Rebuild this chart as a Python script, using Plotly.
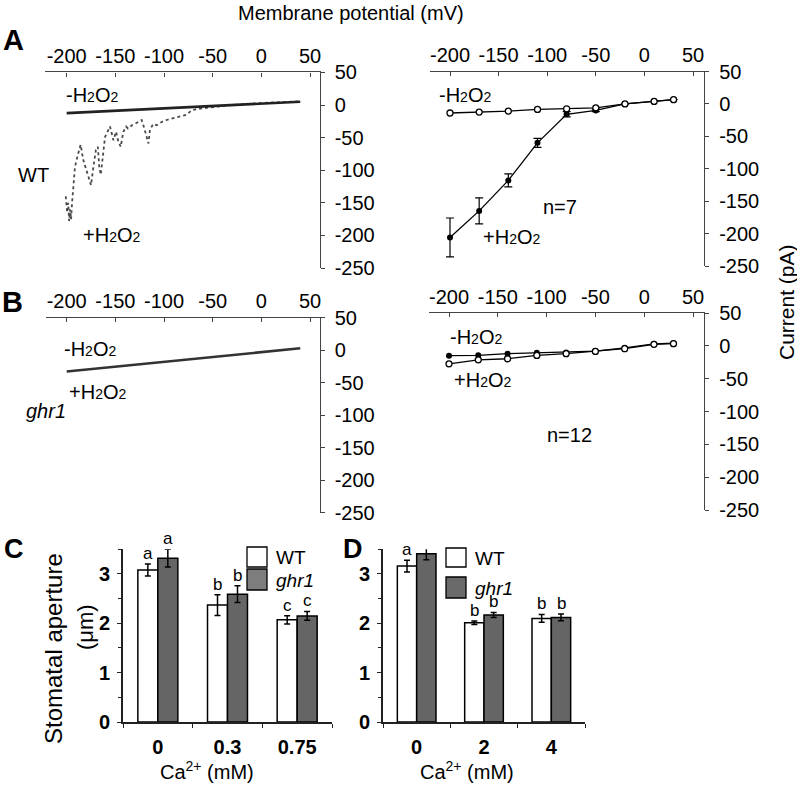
import plotly.graph_objects as go

W, H = 797, 787
FONT = "Liberation Sans, Arial, sans-serif"

# ---------------- Data ----------------
# Panel A left: WT raw ramp traces (membrane potential mV, current pA)
wt_ctrl_v = [-200, -100, 0, 40]
wt_ctrl_i = [-12.5, -5.5, 2, 5]
wt_h2o2_v = [-201, -199.5, -198.5, -197.5, -196.5, -195.5, -194.5,
             -193.2, -191.5, -189, -187, -185.7,
             -183, -179.5, -176, -175,
             -172.6, -170, -168, -166.5, -165,
             -162.4, -160.6, -158, -155.5,
             -152, -149.3, -147, -144.5,
             -141.8, -139, -137, -133, -130,
             -126.4, -123, -120.8, -117.8, -116,
             -114.5, -111, -107.5, -102.4,
             -97.3, -90.5, -83.6, -76.7, -71.6,
             -60, -30, 0, 40]
wt_h2o2_i = [-140, -165, -150, -178, -160, -175, -150,
             -120, -95, -79, -69, -61,
             -84, -100, -115, -123,
             -95, -69, -64, -95, -107,
             -74, -49, -41, -33,
             -54, -41, -56, -64,
             -41, -33, -36, -31, -29,
             -26, -23, -33, -49, -59,
             -38, -29, -31, -26,
             -23, -20, -18, -15, -8,
             -5, 0, 3, 5.5]

# Panel B left: ghr1 raw ramp traces
ghr1_raw_v = [-200, -63, 40]
ghr1_raw_i = [-33, -12.7, 2.6]

# Panels A/B right: averaged I-V
iv_v = [-200, -170, -140, -110, -80, -50, -20, 10, 30]
wt_minus = [-14, -12.6, -11, -8.5, -7.5, -6, 0, 3.8, 6.5]
wt_plus = [-206, -165, -118, -60, -16, -10, 0, 3.8, 6.5]
wt_plus_err = [30, 20, 10, 7, 4, 2, 0, 0, 0]
ghr1_filled = [-15, -14.5, -12, -10.5, -10, -8, -3, 3, 4]
ghr1_open = [-27.4, -21.3, -19.7, -14.6, -12, -8.5, -4.4, 2.3, 3.3]

v_ticks = [-200, -150, -100, -50, 0, 50]
i_ticks = [50, 0, -50, -100, -150, -200, -250]

# Panels C/D: stomatal aperture
ca_c = ["0", "0.3", "0.75"]
c_wt = [3.08, 2.37, 2.07]
c_wt_err = [0.12, 0.21, 0.085]
c_ghr1 = [3.32, 2.59, 2.15]
c_ghr1_err = [0.18, 0.17, 0.09]
c_wt_letters = ["a", "b", "c"]
c_ghr1_letters = ["a", "b", "c"]

ca_d = ["0", "2", "4"]
d_wt = [3.16, 2.01, 2.10]
d_wt_err = [0.12, 0.035, 0.08]
d_ghr1 = [3.41, 2.17, 2.12]
d_ghr1_err = [0.12, 0.05, 0.07]
d_wt_letters = ["a", "b", "b"]
d_ghr1_letters = ["a", "b", "b"]


def fx(px):
    return px / W


def fy(py):
    return 1 - py / H


fig = go.Figure()

# ---- A left ----
fig.add_trace(go.Scatter(x=wt_h2o2_v, y=wt_h2o2_i, mode="lines",
                         line=dict(color="#4a4a4a", width=1.8, dash="dot"),
                         xaxis="x", yaxis="y"))
fig.add_trace(go.Scatter(x=wt_ctrl_v, y=wt_ctrl_i, mode="lines",
                         line=dict(color="#222", width=2.6),
                         xaxis="x", yaxis="y"))

# ---- A right ----
fig.add_trace(go.Scatter(x=iv_v, y=wt_plus, mode="lines+markers",
                         line=dict(color="black", width=1.3),
                         marker=dict(size=6, color="black"),
                         error_y=dict(type="data", array=wt_plus_err, color="black",
                                      thickness=1.2, width=4),
                         xaxis="x2", yaxis="y2"))
fig.add_trace(go.Scatter(x=iv_v, y=wt_minus, mode="lines+markers",
                         line=dict(color="black", width=1.3),
                         marker=dict(size=6, color="white", line=dict(color="black", width=1.3)),
                         xaxis="x2", yaxis="y2"))

# ---- B left ----
fig.add_trace(go.Scatter(x=ghr1_raw_v, y=ghr1_raw_i, mode="lines",
                         line=dict(color="#333", width=2.6),
                         xaxis="x3", yaxis="y3"))

# ---- B right ----
fig.add_trace(go.Scatter(x=iv_v, y=ghr1_filled, mode="lines+markers",
                         line=dict(color="black", width=1.3),
                         marker=dict(size=6, color="black"),
                         xaxis="x4", yaxis="y4"))
fig.add_trace(go.Scatter(x=iv_v, y=ghr1_open, mode="lines+markers",
                         line=dict(color="black", width=1.3),
                         marker=dict(size=6, color="white", line=dict(color="black", width=1.3)),
                         xaxis="x4", yaxis="y4"))

# ---- C / D bars ----
GRAY = "#656565"
for cats, wt, wte, gh, ghe, xa, ya in [
    (ca_c, c_wt, c_wt_err, c_ghr1, c_ghr1_err, "x5", "y5"),
    (ca_d, d_wt, d_wt_err, d_ghr1, d_ghr1_err, "x6", "y6"),
]:
    fig.add_trace(go.Bar(x=cats, y=wt, name="WT", marker=dict(color="white", line=dict(color="black", width=1.5)),
                         error_y=dict(type="data", array=wte, color="black", thickness=1.5, width=3),
                         xaxis=xa, yaxis=ya))
    fig.add_trace(go.Bar(x=cats, y=gh, name="ghr1", marker=dict(color=GRAY, line=dict(color="black", width=1.5)),
                         error_y=dict(type="data", array=ghe, color="black", thickness=1.5, width=3),
                         xaxis=xa, yaxis=ya))

# ---------------- Axes ----------------
AXC = "#444"


def ephys_axes(xdom, ydom, p1, p2):
    a, b = xdom
    scale = (p2 - p1) / 250.0
    xr = [-200 - (p1 - a) / scale, 50 + (b - p2) / scale]
    xa = dict(domain=[fx(a), fx(b)], range=xr, side="top", automargin=False,
              tickvals=v_ticks, ticktext=[str(v) for v in v_ticks],
              ticks="inside", ticklen=4, tickcolor=AXC,
              showline=True, linecolor=AXC, linewidth=1.3,
              showgrid=False, zeroline=False,
              tickfont=dict(family=FONT, size=20, color="black"))
    ya = dict(domain=[fy(ydom[1]), fy(ydom[0])], range=[-250, 50], side="right", automargin=False,
              tickvals=i_ticks, ticktext=[str(v) for v in i_ticks],
              ticks="outside", ticklen=4, tickcolor=AXC, ticklabelstandoff=6,
              showline=True, linecolor=AXC, linewidth=1.3,
              showgrid=False, zeroline=False,
              tickfont=dict(family=FONT, size=20, color="black"))
    return xa, ya


xa1, ya1 = ephys_axes((45, 319.5), (72.4, 268), 66.7, 310)
xa2, ya2 = ephys_axes((430, 704), (71.5, 266), 450, 693)
xa3, ya3 = ephys_axes((46, 319.5), (317.5, 512.5), 66.7, 310)
xa4, ya4 = ephys_axes((429, 704), (313, 510), 449, 693)
xa1.update(anchor="y"); ya1.update(anchor="x")
xa2.update(anchor="y2"); ya2.update(anchor="x2")
xa3.update(anchor="y3"); ya3.update(anchor="x3")
xa4.update(anchor="y4"); ya4.update(anchor="x4")


def bar_axes(xdom, ydom, anchor_y, anchor_x):
    xa = dict(domain=[fx(xdom[0]), fx(xdom[1])], type="category", anchor=anchor_y, automargin=False,
              tickson="boundaries", ticks="outside", ticklen=4, tickcolor="#222",
              showline=True, linecolor="#222", linewidth=1.6, showgrid=False,
              ticklabelstandoff=6,
              tickfont=dict(family=FONT, size=20, color="black", weight="bold"))
    ya = dict(domain=[fy(ydom[1]), fy(ydom[0])], range=[0, 3.5], anchor=anchor_x, automargin=False,
              tickvals=[0, 1, 2, 3], ticks="outside", ticklen=4, tickcolor="#222",
              minor=dict(dtick=0.5, ticks="outside", ticklen=3, tickcolor="#222"),
              showline=True, linecolor="#222", linewidth=1.6, showgrid=False, zeroline=False,
              ticklabelstandoff=3,
              tickfont=dict(family=FONT, size=20, color="black", weight="bold"))
    return xa, ya


xa5, ya5 = bar_axes((123, 332), (549.3, 722), "y5", "x5")
xa6, ya6 = bar_axes((383, 585), (549.3, 722), "y6", "x6")

fig.update_layout(
    template="none",
    width=W, height=H, margin=dict(l=0, r=0, t=0, b=0, pad=0, autoexpand=False),
    paper_bgcolor="white", plot_bgcolor="white", showlegend=False,
    barmode="group", bargap=0.426, bargroupgap=0,
    font=dict(family=FONT, color="black"),
    xaxis=xa1, yaxis=ya1, xaxis2=xa2, yaxis2=ya2,
    xaxis3=xa3, yaxis3=ya3, xaxis4=xa4, yaxis4=ya4,
    xaxis5=xa5, yaxis5=ya5, xaxis6=xa6, yaxis6=ya6,
)

# ---------------- Annotations ----------------
S = "<span style='font-size:14px'>2</span>"
H2O2_minus = "-H" + S + "O" + S
H2O2_plus = "+H" + S + "O" + S

anns = []


def txt(text, x, y, size=20, bold=False, italic=False, angle=0, xanchor="center"):
    if bold:
        text = "<b>" + text + "</b>"
    if italic:
        text = "<i>" + text + "</i>"
    anns.append(dict(text=text, x=fx(x), y=fy(y), xref="paper", yref="paper",
                     xanchor=xanchor, yanchor="middle", showarrow=False, textangle=angle,
                     font=dict(family=FONT, size=size, color="black")))


txt("Membrane potential (mV)", 351, 13, size=20)
txt("Current (pA)", 786, 302, size=21, angle=-90)
txt("A", 13, 40, size=29, bold=True)
txt("B", 12, 302, size=29, bold=True)
txt("C", 14, 549, size=27, bold=True)
txt("D", 353, 549, size=27, bold=True)

txt(H2O2_minus, 92, 95)
txt("WT", 33, 175)
txt(H2O2_plus, 111, 235)
txt(H2O2_minus, 465, 95)
txt("n=7", 560, 207)
txt(H2O2_plus, 512, 237)

txt(H2O2_minus, 90, 349)
txt(H2O2_plus, 97, 392)
txt("ghr1", 46, 411, italic=True)
txt(H2O2_minus, 476, 337)
txt(H2O2_plus, 482, 380)
txt("n=12", 569, 435)

txt("Stomatal aperture", 53, 648, size=24, angle=-90)
txt("(\u03bcm)", 85, 627, size=22, angle=-90)
txt("Ca<sup>2+</sup> (mM)", 207, 770, size=20)
txt("Ca<sup>2+</sup> (mM)", 467, 770, size=20)

# significance letters
off = 0.574 / 4
for cats, wt, wte, gh, ghe, lw, lg, xr, yr in [
    (ca_c, c_wt, c_wt_err, c_ghr1, c_ghr1_err, c_wt_letters, c_ghr1_letters, "x5", "y5"),
    (ca_d, d_wt, d_wt_err, d_ghr1, d_ghr1_err, d_wt_letters, d_ghr1_letters, "x6", "y6"),
]:
    for i in range(len(cats)):
        anns.append(dict(text=lw[i], x=i - off, y=wt[i] + wte[i], xref=xr, yref=yr,
                         xanchor="center", yanchor="bottom", yshift=-1, showarrow=False,
                         font=dict(family=FONT, size=17, color="black")))
        anns.append(dict(text=lg[i], x=i + off, y=gh[i] + ghe[i], xref=xr, yref=yr,
                         xanchor="center", yanchor="bottom", yshift=-1, showarrow=False,
                         font=dict(family=FONT, size=17, color="black")))

# legends (C and D)
shapes = []


def legend_box(x0, y0, x1, y1, color):
    shapes.append(dict(type="rect", xref="paper", yref="paper",
                       x0=fx(x0), x1=fx(x1), y0=fy(y1), y1=fy(y0),
                       fillcolor=color, line=dict(color="black", width=1.3)))


legend_box(247, 547, 267, 567, "white")
legend_box(247, 569, 267, 590, "#7d7d7d")
txt("WT", 274, 557, size=19, xanchor="left")
txt("ghr1", 274, 580, size=19, italic=True, xanchor="left")

legend_box(446, 548, 466, 567, "white")
legend_box(446, 577, 466, 598, "#6a6a6a")
txt("WT", 473, 558, size=19, xanchor="left")
txt("ghr1", 473, 588, size=19, italic=True, xanchor="left")

fig.update_layout(annotations=anns, shapes=shapes)

fig.write_html("out.html", config={"displayModeBar": False},
               post_script="document.body.style.margin='0';document.body.style.overflow='hidden';")
